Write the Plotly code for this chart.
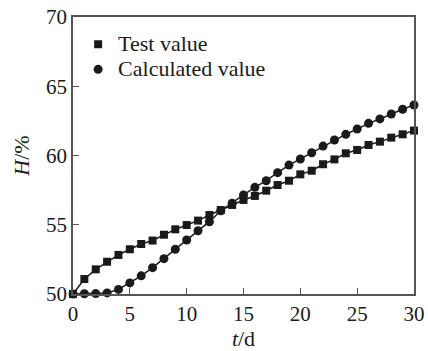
import plotly.graph_objects as go

t_days = list(range(0, 31))
test_value = [50.0, 51.08, 51.78, 52.33, 52.82, 53.23, 53.61, 53.86, 54.28, 54.67,
              54.98, 55.3, 55.7, 56.06, 56.43, 56.79, 57.08, 57.46, 57.87, 58.18,
              58.64, 58.9, 59.37, 59.72, 60.16, 60.4, 60.76, 61.0, 61.29, 61.53, 61.8]
calc_value = [50.0, 50.02, 50.03, 50.08, 50.33, 50.8, 51.31, 51.9, 52.55, 53.23,
              53.9, 54.57, 55.22, 56.01, 56.55, 57.15, 57.7, 58.18, 58.76, 59.31,
              59.75, 60.2, 60.68, 61.12, 61.53, 61.91, 62.32, 62.64, 63.0, 63.34, 63.65]
x_ticks = [0, 5, 10, 15, 20, 25, 30]
y_ticks = [50, 55, 60, 65, 70]
series_names = ["Test value", "Calculated value"]

FONT = "Liberation Serif"
INK = "#1a1a1a"
AXIS = "#555555"


def big(s):
    return '<span style="font-size:22px">' + s + "</span>"


fig = go.Figure()
fig.add_trace(go.Scatter(x=t_days, y=test_value, mode="lines+markers",
                         line=dict(color=INK, width=1.5),
                         marker=dict(symbol="square", size=8, color=INK),
                         showlegend=False, cliponaxis=False))
fig.add_trace(go.Scatter(x=t_days, y=calc_value, mode="lines+markers",
                         line=dict(color=INK, width=1.5),
                         marker=dict(symbol="circle", size=9, color=INK),
                         showlegend=False, cliponaxis=False))
fig.add_trace(go.Scatter(x=[None], y=[None], mode="markers", name=big(series_names[0]),
                         marker=dict(symbol="square", size=8, color=INK)))
fig.add_trace(go.Scatter(x=[None], y=[None], mode="markers", name=big(series_names[1]),
                         marker=dict(symbol="circle", size=9, color=INK)))

fig.update_layout(
    width=428, height=351,
    margin=dict(l=73, r=14, t=17, b=57),
    paper_bgcolor="white", plot_bgcolor="white",
    font=dict(family=FONT, size=21, color=INK),
    showlegend=True,
    legend=dict(x=0.015, y=0.965, xanchor="left", yanchor="top",
                bgcolor="rgba(0,0,0,0)", itemwidth=30,
                font=dict(family=FONT, size=17, color=INK),
                tracegroupgap=0, itemsizing="trace"),
    xaxis=dict(range=[0, 30], tickvals=x_ticks, ticks="inside", ticklen=6,
               tickcolor=AXIS, showline=True, linecolor=AXIS, linewidth=1.5,
               mirror=True, showgrid=False, zeroline=False, automargin=False,
               title=dict(text="<i>t</i>/d", standoff=8,
                          font=dict(family=FONT, size=22, color=INK)),
               tickfont=dict(family=FONT, size=21, color=INK)),
    yaxis=dict(range=[50, 70], tickvals=y_ticks, ticks="inside", ticklen=6,
               tickcolor=AXIS, showline=True, linecolor=AXIS, linewidth=1.5,
               mirror=True, showgrid=False, zeroline=False, automargin=False,
               title=dict(text="<i>H</i>/%", standoff=10,
                          font=dict(family=FONT, size=22, color=INK)),
               tickfont=dict(family=FONT, size=21, color=INK)),
)

fig.write_html("out.html",
               config={"displayModeBar": False, "responsive": False},
               post_script="document.body.style.margin='0';document.body.style.overflow='hidden';")
